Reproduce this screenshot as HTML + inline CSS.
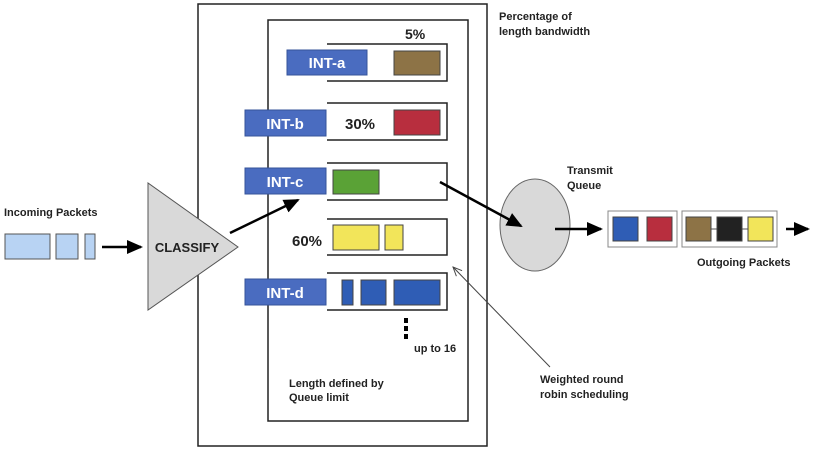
<!DOCTYPE html>
<html><head><style>body{margin:0;background:#fff}svg{display:block}text{font-family:"Liberation Sans",sans-serif;font-weight:bold;fill:#222}</style></head><body>
<svg width="813" height="450" viewBox="0 0 813 450" xmlns="http://www.w3.org/2000/svg">
<defs>
<marker id="ah" markerWidth="10" markerHeight="10" refX="8" refY="5" orient="auto" markerUnits="userSpaceOnUse" viewBox="0 0 10 10"><path d="M0,0 L10,5 L0,10 z" fill="#000"/></marker>
<marker id="ah2" markerWidth="16" markerHeight="16" refX="14" refY="8" orient="auto" markerUnits="userSpaceOnUse" viewBox="0 0 16 16"><path d="M0,1 L16,8 L0,15 z" fill="#000"/></marker>
<marker id="th" markerWidth="10" markerHeight="10" refX="9" refY="5" orient="auto" markerUnits="userSpaceOnUse" viewBox="0 0 10 10"><path d="M0,1 L9,5 L0,9" fill="none" stroke="#444" stroke-width="1"/></marker>
</defs>
<rect x="198" y="4" width="289" height="442" fill="none" stroke="#222" stroke-width="1.5"/>
<rect x="268" y="20" width="200" height="401" fill="none" stroke="#222" stroke-width="1.5"/>
<g fill="#fff" stroke="#222" stroke-width="1.5">
<path d="M327,44 H447 V81 H327"/>
<path d="M327,103 H447 V140 H327"/>
<path d="M327,163 H447 V200 H327"/>
<path d="M327,219 H447 V255 H327"/>
<path d="M327,273 H447 V310 H327"/>
</g>
<g fill="#4a6cc0" stroke="#35539a">
<rect x="287" y="50" width="80" height="25"/>
<rect x="245" y="110" width="81" height="26"/>
<rect x="245" y="168" width="81" height="26"/>
<rect x="245" y="279" width="81" height="26"/>
</g>
<g fill="#fff" font-size="15" text-anchor="middle" style="fill:#fff">
<text x="327" y="68" style="fill:#fff">INT-a</text>
<text x="285" y="129" style="fill:#fff">INT-b</text>
<text x="285" y="187" style="fill:#fff">INT-c</text>
<text x="285" y="298" style="fill:#fff">INT-d</text>
</g>
<g stroke="#444" stroke-width="1">
<rect x="394" y="51" width="46" height="24" fill="#8d7346"/>
<rect x="394" y="110" width="46" height="25" fill="#b82e3e"/>
<rect x="333" y="170" width="46" height="24" fill="#5aa236"/>
<rect x="333" y="225" width="46" height="25" fill="#f2e55a"/>
<rect x="385" y="225" width="18" height="25" fill="#f2e55a"/>
<rect x="342" y="280" width="11" height="25" fill="#2f5db5"/>
<rect x="361" y="280" width="25" height="25" fill="#2f5db5"/>
<rect x="394" y="280" width="46" height="25" fill="#2f5db5"/>
</g>
<text x="405" y="39" font-size="14">5%</text>
<text x="345" y="129" font-size="15">30%</text>
<text x="292" y="246" font-size="15">60%</text>
<g fill="#000"><rect x="404" y="318" width="4" height="5"/><rect x="404" y="326" width="4" height="5"/><rect x="404" y="334" width="4" height="5"/></g>
<text x="414" y="352" font-size="11">up to 16</text>
<text x="289" y="387" font-size="11">Length defined by</text>
<text x="289" y="401" font-size="11">Queue limit</text>
<text x="499" y="20" font-size="11">Percentage of</text>
<text x="499" y="35" font-size="11">length bandwidth</text>
<text x="4" y="216" font-size="11">Incoming Packets</text>
<g fill="#b8d3f3" stroke="#555"><rect x="5" y="234" width="45" height="25"/><rect x="56" y="234" width="22" height="25"/><rect x="85" y="234" width="10" height="25"/></g>
<line x1="102" y1="247" x2="141" y2="247" stroke="#000" stroke-width="2.5" marker-end="url(#ah2)"/>
<polygon points="148,183 148,310 238,247" fill="#d9d9d9" stroke="#555"/>
<text x="187" y="252" font-size="13" text-anchor="middle">CLASSIFY</text>
<line x1="230" y1="233" x2="298" y2="200" stroke="#000" stroke-width="2.5" marker-end="url(#ah2)"/>
<ellipse cx="535" cy="225" rx="35" ry="46" fill="#d9d9d9" stroke="#666"/>
<line x1="440" y1="182" x2="521" y2="226" stroke="#000" stroke-width="2.5" marker-end="url(#ah2)"/>
<text x="567" y="174" font-size="11">Transmit</text>
<text x="567" y="189" font-size="11">Queue</text>
<line x1="555" y1="229" x2="601" y2="229" stroke="#000" stroke-width="2.5" marker-end="url(#ah2)"/>
<g stroke="#888" fill="#fff"><rect x="608" y="211" width="69" height="36"/><rect x="682" y="211" width="95" height="36"/></g>
<line x1="711" y1="229" x2="748" y2="229" stroke="#555"/>
<g stroke="#444"><rect x="613" y="217" width="25" height="24" fill="#2f5db5"/><rect x="647" y="217" width="25" height="24" fill="#b82e3e"/><rect x="686" y="217" width="25" height="24" fill="#8d7346"/><rect x="717" y="217" width="25" height="24" fill="#222"/><rect x="748" y="217" width="25" height="24" fill="#f2e55a"/></g>
<line x1="786" y1="229" x2="808" y2="229" stroke="#000" stroke-width="2.5" marker-end="url(#ah2)"/>
<text x="697" y="266" font-size="11">Outgoing Packets</text>
<line x1="550" y1="367" x2="453" y2="267" stroke="#444" stroke-width="1" marker-end="url(#th)"/>
<text x="540" y="383" font-size="11">Weighted round</text>
<text x="540" y="398" font-size="11">robin scheduling</text>
</svg>
</body></html>
